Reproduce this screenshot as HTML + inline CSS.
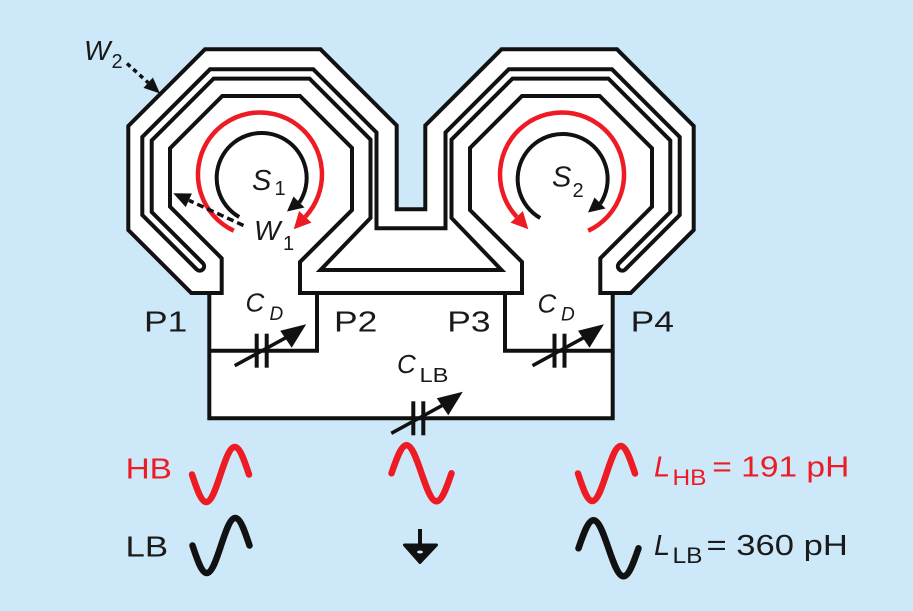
<!DOCTYPE html>
<html>
<head>
<meta charset="utf-8">
<style>
  html,body{margin:0;padding:0;background:#cde9f9;}
  svg{display:block;}
  text{font-family:"Liberation Sans", Arial, sans-serif;}
</style>
</head>
<body>
<svg width="913" height="611" viewBox="0 0 913 611" xmlns="http://www.w3.org/2000/svg">
  <rect x="0" y="0" width="913" height="611" fill="#cde9f9"/>

  <!-- white body -->
  <path d="M128.3 126 L205 49.3 L320.5 49.3 L396.7 125.5 L396.7 209.3 L425.3 209.3 L425.3 125.5 L501.5 49.3 L617 49.3 L693.7 126 L693.7 230 L630.7 293 L612.7 293 L612.7 418.3 L209.3 418.3 L209.3 293 L191.3 293 L128.3 230 Z" fill="#ffffff"/>

  <!-- left half of layout + circuit (mirrored for right half) -->
  <g id="half" fill="none" stroke="#111" stroke-width="4" stroke-linejoin="miter">
    <path d="M411 209.3 L396.7 209.3 L396.7 125.5 L320.5 49.3 L205 49.3 L128.3 126 L128.3 230 L191.3 293 L221.7 293 L221.7 258.3 L170 206.7 L170 148.3 L222.3 96 L300 96 L352 148 L352 210 L300 262 L300 293 L411 293"/>
    <path d="M411 228.3 L376.5 228.3 L376.5 132.5 L313.3 69.3 L210 69.3 L142.3 137 L142.3 215 L196.9 269.6 A4.4 4.4 0 0 0 203.1 263.4 L151.7 212 L151.7 140.5 L213.6 78.6 L309.5 78.6 L370.5 139.6 L370.5 218 L320.5 270 L411 270"/>
    <path d="M209.3 293 L209.3 418.3 L411 418.3"/>
    <path d="M209.3 350.7 L317 350.7 L317 293"/>
  </g>
  <use href="#half" transform="translate(822,0) scale(-1,1)"/>

  <!-- capacitors -->
  <g id="cap" transform="translate(261.7,350.7)" stroke="#111" fill="none">
    <line x1="-5" y1="-17" x2="-5" y2="17" stroke-width="4"/>
    <line x1="5" y1="-17" x2="5" y2="17" stroke-width="4"/>
    <line x1="-27" y1="15" x2="26" y2="-14" stroke-width="3.5"/>
    <polygon points="44.5,-26.5 18.5,-20 30,-3" fill="#111" stroke="none"/>
  </g>
  <g transform="translate(559.5,350.7)" stroke="#111" fill="none">
    <line x1="-5" y1="-17" x2="-5" y2="17" stroke-width="4"/>
    <line x1="5" y1="-17" x2="5" y2="17" stroke-width="4"/>
    <line x1="-27" y1="15" x2="26" y2="-14" stroke-width="3.5"/>
    <polygon points="44.5,-26.5 18.5,-20 30,-3" fill="#111" stroke="none"/>
  </g>
  <g transform="translate(418.3,418.3)" stroke="#111" fill="none">
    <line x1="-5" y1="-17" x2="-5" y2="17" stroke-width="4"/>
    <line x1="5" y1="-17" x2="5" y2="17" stroke-width="4"/>
    <line x1="-27" y1="15" x2="26" y2="-14" stroke-width="3.5"/>
    <polygon points="44.5,-26.5 18.5,-20 30,-3" fill="#111" stroke="none"/>
  </g>

  <!-- current arrows left coil -->
  <path d="M233.8 230.7 A62 62 0 1 1 305.3 216.8" fill="none" stroke="#ed1c24" stroke-width="4.5"/>
  <polygon points="293.7,229.2 311.5,222.6 299.1,211" fill="#ed1c24"/>
  <path d="M239.2 217 A45 45 0 1 1 299.4 202.5" fill="none" stroke="#111" stroke-width="4"/>
  <polygon points="287,211.5 293.5,196.5 304.5,207.5" fill="#111"/>

  <!-- current arrows right coil -->
  <g transform="translate(822,0) scale(-1,1)">
    <path d="M233.8 230.7 A62 62 0 1 1 305.3 216.8" fill="none" stroke="#ed1c24" stroke-width="4.5"/>
    <polygon points="293.7,229.2 311.5,222.6 299.1,211" fill="#ed1c24"/>
  </g>
  <g transform="translate(301,1)">
    <path d="M239.2 217 A45 45 0 1 1 299.4 202.5" fill="none" stroke="#111" stroke-width="4"/>
    <polygon points="287,211.5 293.5,196.5 304.5,207.5" fill="#111"/>
  </g>

  <!-- W1 dashed arrow -->
  <line x1="243.5" y1="225.5" x2="189" y2="200.4" stroke="#111" stroke-width="3.5" stroke-dasharray="7 4"/>
  <polygon points="173.3,193.3 191.9,193.5 185.7,207.1" fill="#111"/>

  <!-- W2 dotted arrow -->
  <line x1="127" y1="63.5" x2="148.2" y2="82.7" stroke="#111" stroke-width="3.5" stroke-dasharray="4.5 4"/>
  <polygon points="160,93.5 152.9,77.5 143.5,87.9" fill="#111"/>

  <!-- waves -->
  <g fill="none" stroke-width="6.5" stroke-linecap="round">
    <path id="wdown" d="M192 474.5 C196.65 488.6 201.1 502 206.25 502 C211.4 502 215.85 488.6 220.5 474.5 C225.15 460.4 229.6 447 234.75 447 C239.9 447 244.35 460.4 249 474.5" stroke="#ed1c24"/>
    <path d="M192 474.5 C196.65 488.6 201.1 502 206.25 502 C211.4 502 215.85 488.6 220.5 474.5 C225.15 460.4 229.6 447 234.75 447 C239.9 447 244.35 460.4 249 474.5" stroke="#111" transform="translate(0.5,71)"/>
    <path d="M192 474.5 C196.65 488.6 201.1 502 206.25 502 C211.4 502 215.85 488.6 220.5 474.5 C225.15 460.4 229.6 447 234.75 447 C239.9 447 244.35 460.4 249 474.5" stroke="#ed1c24" transform="translate(386,-1)"/>
    <path d="M391.5 473.3 C396.4 459 401.1 445.3 406.5 445.3 C411.9 445.3 416.6 459 421.5 473.3 C426.4 487.6 431.1 501.3 436.5 501.3 C441.9 501.3 446.6 487.6 451.5 473.3" stroke="#ed1c24"/>
    <path d="M391.5 473.3 C396.4 459 401.1 445.3 406.5 445.3 C411.9 445.3 416.6 459 421.5 473.3 C426.4 487.6 431.1 501.3 436.5 501.3 C441.9 501.3 446.6 487.6 451.5 473.3" stroke="#111" transform="translate(187,75)"/>
  </g>

  <!-- ground -->
  <line x1="420" y1="529" x2="420" y2="547" stroke="#111" stroke-width="4"/>
  <polygon points="404.5,545 436.5,545 420,562.5" fill="#111" stroke="#111" stroke-width="3" stroke-linejoin="round"/>
  <ellipse cx="420" cy="552" rx="3" ry="1.5" fill="#cde9f9"/>

  <!-- labels -->
  <g fill="#1a1a1a">
    <text x="84" y="60" font-size="28" font-style="italic">W</text>
    <text x="111.5" y="68" font-size="20">2</text>

    <text x="252" y="190" font-size="29" font-style="italic">S</text>
    <text x="274.5" y="195" font-size="20">1</text>
    <text x="254" y="240" font-size="28" font-style="italic">W</text>
    <text x="283" y="250" font-size="20">1</text>

    <text x="552" y="186.5" font-size="29" font-style="italic">S</text>
    <text x="572.5" y="197" font-size="20">2</text>

    <text x="144" y="331.7" font-size="29" textLength="43.3" lengthAdjust="spacingAndGlyphs">P1</text>
    <text x="334" y="331.7" font-size="29" textLength="43.3" lengthAdjust="spacingAndGlyphs">P2</text>
    <text x="447.3" y="331.7" font-size="29" textLength="43.3" lengthAdjust="spacingAndGlyphs">P3</text>
    <text x="630.6" y="331.7" font-size="29" textLength="43.3" lengthAdjust="spacingAndGlyphs">P4</text>

    <text x="245.5" y="311.5" font-size="26" font-style="italic">C</text>
    <text x="269.5" y="320" font-size="19" font-style="italic">D</text>
    <text x="537.5" y="312.5" font-size="26" font-style="italic">C</text>
    <text x="561" y="320.5" font-size="19" font-style="italic">D</text>
    <text x="397" y="373" font-size="26" font-style="italic">C</text>
    <text x="419.5" y="382" font-size="20" textLength="29" lengthAdjust="spacingAndGlyphs">LB</text>

    <text x="125.5" y="556.7" font-size="29" textLength="42.6" lengthAdjust="spacingAndGlyphs">LB</text>
    <text x="654" y="555" font-size="29" font-style="italic">L</text>
    <text x="672.5" y="563" font-size="22" textLength="30" lengthAdjust="spacingAndGlyphs">LB</text>
    <text x="706.5" y="555" font-size="29" textLength="141.3" lengthAdjust="spacingAndGlyphs">= 360 pH</text>
  </g>
  <g fill="#ed1c24">
    <text x="125.6" y="478.3" font-size="29" textLength="46.3" lengthAdjust="spacingAndGlyphs">HB</text>
    <text x="654" y="476.7" font-size="29" font-style="italic">L</text>
    <text x="672.5" y="485" font-size="22" textLength="34" lengthAdjust="spacingAndGlyphs">HB</text>
    <text x="712.3" y="476.7" font-size="29" textLength="137" lengthAdjust="spacingAndGlyphs">= 191 pH</text>
  </g>
</svg>
</body>
</html>
